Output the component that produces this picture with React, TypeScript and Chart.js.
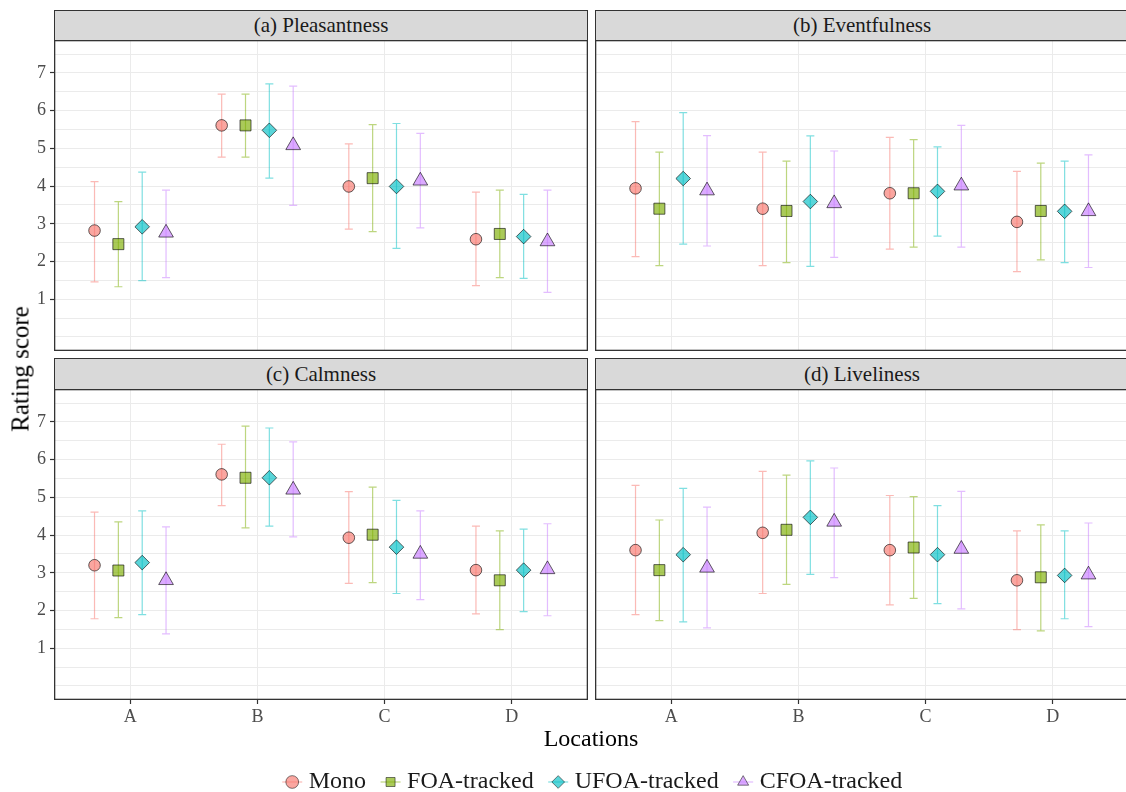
import React, { useEffect, useRef } from 'react';
import { Chart, registerables } from 'chart.js';

Chart.register(...registerables);

const FONT = "'Liberation Serif', 'Times New Roman', Times, serif";

const LOCATIONS = ['A', 'B', 'C', 'D'];
const SERIES = ['Mono', 'FOA-tracked', 'UFOA-tracked', 'CFOA-tracked'];
const PANEL_TITLES = ['(a) Pleasantness', '(b) Eventfulness', '(c) Calmness', '(d) Liveliness'];
const X_TITLE = 'Locations';
const Y_TITLE = 'Rating score';
const Y_TICK_LABELS = [1, 2, 3, 4, 5, 6, 7];
const Y_GRID_VALUES = [0, 0.5, 1, 1.5, 2, 2.5, 3, 3.5, 4, 4.5, 5, 5.5, 6, 6.5, 7, 7.5];

// rows = series (Mono, FOA, UFOA, CFOA), columns = locations (A, B, C, D)
const PLEAS_MEAN = [[2.82, 5.61, 3.99, 2.59], [2.46, 5.61, 4.21, 2.73], [2.92, 5.48, 3.99, 2.66], [2.76, 5.08, 4.14, 2.53]];
const PLEAS_LO = [[1.46, 4.77, 2.86, 1.36], [1.33, 4.77, 2.79, 1.57], [1.49, 4.21, 2.35, 1.55], [1.57, 3.49, 2.89, 1.18]];
const PLEAS_HI = [[4.12, 6.44, 5.12, 3.84], [3.59, 6.44, 5.63, 3.89], [4.37, 6.71, 5.66, 3.78], [3.89, 6.65, 5.40, 3.89]];

const EVENT_MEAN = [[3.94, 3.40, 3.81, 3.05], [3.40, 3.34, 3.81, 3.34], [4.20, 3.59, 3.86, 3.33], [3.88, 3.54, 4.01, 3.33]];
const EVENT_LO = [[2.13, 1.89, 2.33, 1.73], [1.89, 1.97, 2.38, 2.04], [2.46, 1.87, 2.67, 1.97], [2.41, 2.11, 2.38, 1.84]];
const EVENT_HI = [[5.71, 4.90, 5.29, 4.39], [4.90, 4.66, 5.23, 4.61], [5.95, 5.33, 5.04, 4.66], [5.34, 4.93, 5.61, 4.83]];

const CALM_MEAN = [[3.20, 5.61, 3.93, 3.07], [3.06, 5.52, 4.01, 2.80], [3.27, 5.52, 3.68, 3.07], [2.80, 5.20, 3.50, 3.09]];
const CALM_LO = [[1.78, 4.78, 2.72, 1.91], [1.81, 4.19, 2.74, 1.49], [1.89, 4.24, 2.45, 1.97], [1.38, 3.95, 2.29, 1.86]];
const CALM_HI = [[4.61, 6.41, 5.15, 4.24], [4.35, 6.89, 5.27, 4.11], [4.64, 6.84, 4.92, 4.16], [4.22, 6.47, 4.64, 4.30]];

const LIVE_MEAN = [[3.60, 4.06, 3.60, 2.80], [3.07, 4.14, 3.67, 2.88], [3.48, 4.47, 3.48, 2.93], [3.13, 4.35, 3.63, 2.95]];
const LIVE_LO = [[1.89, 2.45, 2.15, 1.49], [1.73, 2.69, 2.32, 1.46], [1.70, 2.96, 2.18, 1.78], [1.54, 2.87, 2.04, 1.57]];
const LIVE_HI = [[5.32, 5.69, 5.05, 4.11], [4.40, 5.59, 5.02, 4.27], [5.24, 5.97, 4.78, 4.11], [4.74, 5.78, 5.16, 4.32]];

const SERIES_COLORS = ['#F8766D', '#7CAE00', '#00BFC4', '#C77CFF'];
const POINT_STYLES = ['circle', 'rect', 'rectRot', 'triangle'];
const POINT_RADII = [5.8, 7.8, 7.3, 8.5];

const DODGE = 0.75;
const CAP = 4;

function rgba(hex: string, a: number) {
  const n = parseInt(hex.slice(1), 16);
  return `rgba(${(n >> 16) & 255},${(n >> 8) & 255},${n & 255},${a})`;
}
const offsetFor = (i: number) => (i - (SERIES.length - 1) / 2) * (DODGE / SERIES.length);

type PanelProps = {
  left: number; top: number; width: number; height: number;
  yAxisW: number; xAxisH: number;
  mean: number[][]; lo: number[][]; hi: number[][];
};

function Panel({ left, top, width, height, yAxisW, xAxisH, mean, lo, hi }: PanelProps) {
  const ref = useRef<HTMLCanvasElement>(null);
  useEffect(() => {
    if (!ref.current) return;
    const showY = yAxisW > 0;
    const showX = xAxisH > 0;
    const errorBars = {
      id: 'errorBars',
      beforeDatasetsDraw(chart: any) {
        const { ctx } = chart;
        const xs = chart.scales.x;
        const ys = chart.scales.y;
        ctx.save();
        ctx.lineWidth = 1.2;
        SERIES.forEach((_, i) => {
          ctx.strokeStyle = rgba(SERIES_COLORS[i], 0.5);
          LOCATIONS.forEach((__, j) => {
            const px = xs.getPixelForValue(j + offsetFor(i));
            const pLo = ys.getPixelForValue(lo[i][j]);
            const pHi = ys.getPixelForValue(hi[i][j]);
            ctx.beginPath();
            ctx.moveTo(px, pLo); ctx.lineTo(px, pHi);
            ctx.moveTo(px - CAP, pLo); ctx.lineTo(px + CAP, pLo);
            ctx.moveTo(px - CAP, pHi); ctx.lineTo(px + CAP, pHi);
            ctx.stroke();
          });
        });
        ctx.restore();
      },
    };
    const frame = {
      id: 'frame',
      afterDraw(chart: any) {
        const { ctx, chartArea: a } = chart;
        ctx.save();
        ctx.strokeStyle = '#333333';
        ctx.lineWidth = 1.3;
        ctx.strokeRect(a.left + 0.65, a.top + 0.65, a.right - a.left - 1.3, a.bottom - a.top - 1.3);
        ctx.restore();
      },
    };
    const chart = new Chart(ref.current, {
      type: 'scatter',
      data: {
        datasets: SERIES.map((s, i) => ({
          label: s,
          data: LOCATIONS.map((_, j) => ({ x: j + offsetFor(i), y: mean[i][j] })),
          pointStyle: POINT_STYLES[i] as any,
          pointRadius: POINT_RADII[i],
          pointHoverRadius: POINT_RADII[i],
          pointBackgroundColor: rgba(SERIES_COLORS[i], 0.65),
          pointBorderColor: 'rgba(0,0,0,0.6)',
          pointBorderWidth: 1,
          showLine: false,
        })),
      },
      options: {
        animation: false,
        responsive: false,
        events: [],
        layout: { padding: 0, autoPadding: false },
        plugins: { legend: { display: false }, tooltip: { enabled: false } },
        scales: {
          x: {
            type: 'linear',
            min: -0.6,
            max: 3.6,
            afterBuildTicks: (s: any) => { s.ticks = LOCATIONS.map((_, i) => ({ value: i })); },
            afterFit: (s: any) => { s.height = xAxisH; s.paddingLeft = 0; s.paddingRight = 0; },
            ticks: {
              display: showX,
              autoSkip: false,
              maxRotation: 0,
              padding: 2,
              color: '#4D4D4D',
              font: { family: FONT, size: 18 },
              callback: (v: any) => LOCATIONS[v] ?? '',
            },
            grid: { color: '#EBEBEB', lineWidth: 1, drawTicks: showX, tickLength: 4, tickColor: '#333333', tickWidth: 1.2 },
            border: { display: false },
          },
          y: {
            type: 'linear',
            min: -0.375,
            max: 7.875,
            afterBuildTicks: (s: any) => { s.ticks = Y_GRID_VALUES.map((v) => ({ value: v })); },
            afterFit: (s: any) => { s.width = yAxisW; s.paddingTop = 0; s.paddingBottom = 0; },
            ticks: {
              display: showY,
              autoSkip: false,
              padding: 4,
              color: '#4D4D4D',
              font: { family: FONT, size: 18 },
              callback: (v: any) => (Y_TICK_LABELS.includes(v) ? String(v) : ''),
            },
            grid: {
              color: '#EBEBEB',
              lineWidth: 1,
              drawTicks: showY,
              tickLength: 4,
              tickWidth: 1.2,
              tickColor: (c: any) => (Y_TICK_LABELS.includes(c.tick?.value) ? '#333333' : 'rgba(0,0,0,0)'),
            },
            border: { display: false },
          },
        },
      } as any,
      plugins: [errorBars, frame],
    });
    return () => chart.destroy();
  }, []);
  return (
    <canvas
      ref={ref}
      width={width}
      height={height}
      style={{ position: 'absolute', left, top, width, height }}
    />
  );
}

const LEGEND_TOP = 750;
const LEGEND_BOX = 9;

function LegendChart() {
  const ref = useRef<HTMLCanvasElement>(null);
  useEffect(() => {
    if (!ref.current) return;
    const keyLines = {
      id: 'keyLines',
      beforeDraw(chart: any) {
        const boxes = chart.legend?.legendHitBoxes || [];
        const { ctx } = chart;
        ctx.save();
        ctx.lineWidth = 1.2;
        boxes.forEach((b: any, i: number) => {
          const cx = b.left + LEGEND_BOX / 2;
          const cy = b.top + 12;
          ctx.strokeStyle = rgba(SERIES_COLORS[i], 0.5);
          ctx.beginPath();
          ctx.moveTo(cx - 10, cy);
          ctx.lineTo(cx + 10, cy);
          ctx.stroke();
        });
        ctx.restore();
      },
    };
    const chart = new Chart(ref.current, {
      type: 'scatter',
      data: {
        datasets: SERIES.map((s, i) => ({
          label: s,
          data: [],
          pointStyle: POINT_STYLES[i] as any,
          backgroundColor: rgba(SERIES_COLORS[i], 0.65),
          borderColor: 'rgba(0,0,0,0.5)',
          borderWidth: 1,
        })),
      },
      options: {
        animation: false,
        responsive: false,
        events: [],
        layout: { autoPadding: false },
        scales: { x: { display: false }, y: { display: false } },
        plugins: {
          tooltip: { enabled: false },
          legend: {
            display: true,
            position: 'top',
            labels: {
              usePointStyle: true,
              boxWidth: LEGEND_BOX,
              boxHeight: LEGEND_BOX,
              padding: 20,
              color: '#1A1A1A',
              font: { family: FONT, size: 24 },
              generateLabels: () =>
                SERIES.map((s, i) => ({
                  text: s,
                  datasetIndex: i,
                  hidden: false,
                  fillStyle: rgba(SERIES_COLORS[i], 0.65),
                  strokeStyle: 'rgba(0,0,0,0.5)',
                  lineWidth: 1,
                  pointStyle: POINT_STYLES[i],
                  fontColor: '#1A1A1A',
                })),
            },
          },
        },
      } as any,
      plugins: [keyLines],
    });
    return () => chart.destroy();
  }, []);
  return (
    <canvas ref={ref} width={1190} height={200} style={{ position: 'absolute', left: 0, top: LEGEND_TOP, width: 1190, height: 200 }} />
  );
}

const stripStyle = (left: number, top: number, height: number): React.CSSProperties => ({
  position: 'absolute',
  left,
  top,
  width: 534,
  height,
  boxSizing: 'border-box',
  background: '#D9D9D9',
  border: '1.3px solid #333333',
  display: 'flex',
  alignItems: 'center',
  justifyContent: 'center',
  fontFamily: FONT,
  fontSize: 21,
  color: '#1A1A1A',
  lineHeight: 1,
});

export default function App() {
  return (
    <div style={{ position: 'absolute', left: 0, top: 0, width: 1126, height: 792, overflow: 'hidden', background: '#FFFFFF', fontFamily: FONT }}>
      <div style={stripStyle(54, 10, 31)}>{PANEL_TITLES[0]}</div>
      <div style={stripStyle(595, 10, 31)}>{PANEL_TITLES[1]}</div>
      <div style={stripStyle(54, 358, 32)}>{PANEL_TITLES[2]}</div>
      <div style={stripStyle(595, 358, 32)}>{PANEL_TITLES[3]}</div>
      <Panel left={0} top={40} width={588} height={311} yAxisW={54} xAxisH={0} mean={PLEAS_MEAN} lo={PLEAS_LO} hi={PLEAS_HI} />
      <Panel left={595} top={40} width={534} height={311} yAxisW={0} xAxisH={0} mean={EVENT_MEAN} lo={EVENT_LO} hi={EVENT_HI} />
      <Panel left={0} top={389} width={588} height={341} yAxisW={54} xAxisH={30} mean={CALM_MEAN} lo={CALM_LO} hi={CALM_HI} />
      <Panel left={595} top={389} width={534} height={341} yAxisW={0} xAxisH={30} mean={LIVE_MEAN} lo={LIVE_LO} hi={LIVE_HI} />
      <div style={{ position: 'absolute', left: 591, top: 738, transform: 'translate(-50%, -50%)', fontSize: 24, color: '#000', whiteSpace: 'nowrap', lineHeight: 1 }}>{X_TITLE}</div>
      <div style={{ position: 'absolute', left: 20, top: 369, transform: 'translate(-50%, -50%) rotate(-90deg)', fontSize: 25, color: '#000', whiteSpace: 'nowrap', lineHeight: 1 }}>{Y_TITLE}</div>
      <LegendChart />
    </div>
  );
}
